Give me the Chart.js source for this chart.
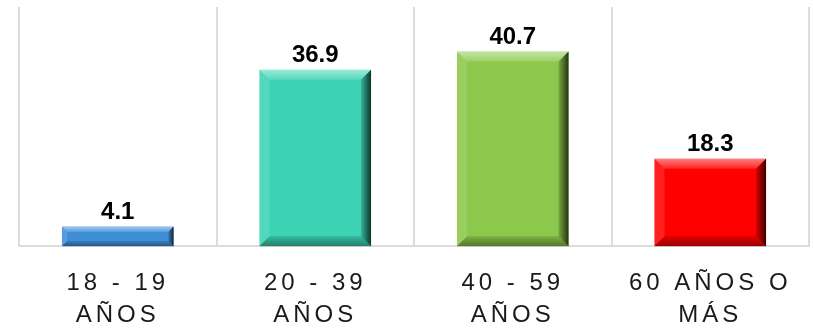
<!DOCTYPE html>
<html>
<head>
<meta charset="utf-8">
<script src="https://cdn.jsdelivr.net/npm/chart.js@4/dist/chart.umd.min.js"></script>
<style>
html,body{margin:0;padding:0;background:#fff;}
#c{display:block;}
</style>
</head>
<body>
<canvas id="c" width="813" height="328"></canvas>
<script>
const categories = [['18 - 19','AÑOS'], ['20 - 39','AÑOS'], ['40 - 59','AÑOS'], ['60 AÑOS O','MÁS']];
const values = [4.1, 36.9, 40.7, 18.3];
const barColors = ['#3f8fd8', '#3bd3b3', '#8cc84b', '#fe0000'];
const yMax = 50;

const bevelPlugin = {
  id: 'bevel',
  beforeDraw(chart) {
    chart.ctx.letterSpacing = '4px';
  },
  afterDatasetsDraw(chart) {
    const ctx = chart.ctx;
    const meta = chart.getDatasetMeta(0);
    meta.data.forEach((bar, i) => {
      const p = bar.getProps(['x','y','base','width'], true);
      const l = p.x - p.width/2, r = p.x + p.width/2, t = p.y, b = p.base;
      const h = b - t;
      const bv = Math.min(10, h * 0.27);
      ctx.save();
      let g = ctx.createLinearGradient(0, t, 0, t + bv);
      g.addColorStop(0, 'rgba(255,255,255,0.5)');
      g.addColorStop(1, 'rgba(255,255,255,0.15)');
      ctx.fillStyle = g;
      ctx.beginPath(); ctx.moveTo(l,t); ctx.lineTo(r,t); ctx.lineTo(r-bv,t+bv); ctx.lineTo(l+bv,t+bv); ctx.closePath(); ctx.fill();
      ctx.fillStyle = 'rgba(255,255,255,0.12)';
      ctx.beginPath(); ctx.moveTo(l,t); ctx.lineTo(l+bv,t+bv); ctx.lineTo(l+bv,b-bv); ctx.lineTo(l,b); ctx.closePath(); ctx.fill();
      g = ctx.createLinearGradient(r - bv, 0, r, 0);
      g.addColorStop(0, 'rgba(0,0,0,0.15)');
      g.addColorStop(1, 'rgba(0,0,0,0.75)');
      ctx.fillStyle = g;
      ctx.beginPath(); ctx.moveTo(r,t); ctx.lineTo(r,b); ctx.lineTo(r-bv,b-bv); ctx.lineTo(r-bv,t+bv); ctx.closePath(); ctx.fill();
      g = ctx.createLinearGradient(0, b - bv, 0, b);
      g.addColorStop(0, 'rgba(0,0,0,0.12)');
      g.addColorStop(1, 'rgba(0,0,0,0.4)');
      ctx.fillStyle = g;
      ctx.beginPath(); ctx.moveTo(l,b); ctx.lineTo(r,b); ctx.lineTo(r-bv,b-bv); ctx.lineTo(l+bv,b-bv); ctx.closePath(); ctx.fill();
      ctx.letterSpacing = '0px';
      ctx.fillStyle = '#000';
      ctx.font = 'bold 24px "Liberation Sans", Arial, sans-serif';
      ctx.textAlign = 'center';
      ctx.textBaseline = 'bottom';
      ctx.fillText(values[i].toFixed(1), p.x, t - 2);
      ctx.restore();
    });
  }
};

new Chart(document.getElementById('c'), {
  type: 'bar',
  data: {
    labels: categories,
    datasets: [{
      data: values,
      backgroundColor: barColors,
      borderWidth: 0,
      categoryPercentage: 1,
      barPercentage: 0.565
    }]
  },
  options: {
    responsive: false,
    animation: false,
    layout: { padding: { left: 19, right: 4, top: 7, bottom: -25 } },
    plugins: { legend: { display: false }, tooltip: { enabled: false } },
    scales: {
      x: {
        offset: true,
        grid: { offset: true, color: '#dcdcdc', lineWidth: 2, drawTicks: false },
        border: { display: true, color: '#dcdcdc', width: 2 },
        ticks: {
          color: '#1a1a1a',
          padding: 21,
          maxRotation: 0,
          autoSkip: false,
          font: { family: '"Liberation Sans", Arial, sans-serif', size: 24, lineHeight: 1.35 }
        }
      },
      y: {
        display: false,
        min: 0,
        max: yMax
      }
    }
  },
  plugins: [bevelPlugin]
});
</script>
</body>
</html>
